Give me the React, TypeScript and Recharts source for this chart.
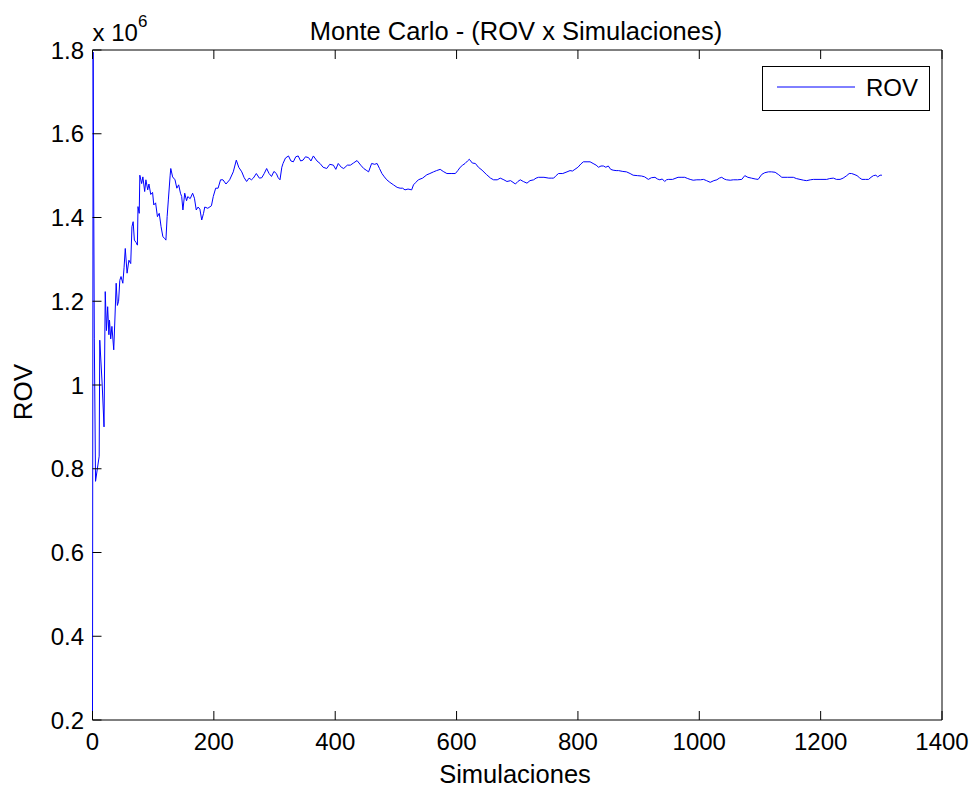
import React from 'react';
import { LineChart, Line, XAxis, YAxis, Legend, Label } from 'recharts';

// Simulation index (x) and ROV value in millions (y, x 10^6)
const simulaciones = [
  0, 1, 3, 5, 11, 12, 16, 19, 21, 23, 25, 27, 28, 30, 32, 35, 37, 39, 41, 43, 45, 47, 50, 52, 54, 57, 60, 63,
  65, 67, 69, 72, 74, 75, 77, 78, 81, 83, 86, 88, 91, 93, 96, 99, 101, 104, 107, 110, 113, 116, 119, 121, 123,
  125, 128, 129, 132, 136, 139, 142, 145, 147, 149, 152, 155, 157, 161, 165, 168, 171, 174, 177, 180, 183, 185,
  190, 196, 199, 203, 207, 211, 215, 220, 226, 232, 237, 241, 246, 250, 254, 258, 262, 265, 270, 275, 279, 283,
  287, 291, 295, 299, 303, 306, 309, 312, 314, 318, 323, 327, 331, 335, 339, 343, 347, 351, 356, 360, 364, 370,
  375, 380, 386, 391, 397, 401, 405, 410, 414, 420, 425, 430, 436, 442, 447, 451, 455, 460, 465, 469, 473, 477,
  481, 485, 490, 496, 502, 507, 511, 515, 520, 526, 529, 533, 537, 544, 551, 556, 562, 567, 573, 578, 584, 591,
  598, 602, 606, 610, 614, 618, 621, 626, 631, 636, 642, 649, 656, 661, 667, 672, 678, 683, 689, 693, 697, 701,
  705, 710, 716, 721, 727, 731, 735, 744, 752, 756, 760, 764, 768, 775, 782, 787, 791, 795, 800, 805, 809, 815,
  820, 825, 830, 834, 838, 842, 846, 850, 854, 858, 863, 867, 874, 880, 886, 891, 898, 905, 910, 916, 921, 927,
  931, 935, 939, 943, 946, 949, 956, 965, 970, 976, 981, 985, 990, 996, 1002, 1007, 1012, 1018, 1024, 1029, 1033,
  1037, 1041, 1045, 1051, 1056, 1063, 1070, 1075, 1080, 1086, 1092, 1097, 1103, 1108, 1114, 1119, 1125, 1131,
  1136, 1145, 1155, 1160, 1166, 1172, 1177, 1183, 1188, 1199, 1210, 1215, 1221, 1226, 1232, 1237, 1243, 1247,
  1251, 1255, 1260, 1264, 1268, 1274, 1279, 1283, 1287, 1291, 1294, 1298, 1301,
];

const rovMillones = [
  0.22, 1.795, 1.11, 0.77, 0.83, 1.107, 1.0, 0.9, 1.223, 1.13, 1.187, 1.12, 1.155, 1.11, 1.14, 1.084, 1.16, 1.243,
  1.19, 1.2, 1.25, 1.259, 1.243, 1.28, 1.326, 1.267, 1.298, 1.29, 1.378, 1.39, 1.346, 1.34, 1.334, 1.426, 1.41,
  1.501, 1.481, 1.497, 1.462, 1.49, 1.466, 1.48, 1.455, 1.46, 1.43, 1.435, 1.402, 1.41, 1.378, 1.354, 1.35, 1.346,
  1.402, 1.442, 1.501, 1.517, 1.497, 1.49, 1.47, 1.478, 1.458, 1.45, 1.418, 1.458, 1.44, 1.45, 1.445, 1.458,
  1.446, 1.418, 1.425, 1.42, 1.394, 1.41, 1.425, 1.422, 1.428, 1.45, 1.47, 1.47, 1.49, 1.49, 1.48, 1.49, 1.509,
  1.537, 1.52, 1.509, 1.495, 1.486, 1.494, 1.49, 1.494, 1.505, 1.494, 1.495, 1.505, 1.517, 1.505, 1.498, 1.51,
  1.505, 1.495, 1.49, 1.52, 1.529, 1.542, 1.547, 1.535, 1.533, 1.545, 1.547, 1.535, 1.537, 1.545, 1.543, 1.535,
  1.547, 1.535, 1.529, 1.52, 1.517, 1.527, 1.525, 1.515, 1.529, 1.52, 1.517, 1.525, 1.525, 1.53, 1.536, 1.525,
  1.517, 1.513, 1.509, 1.529, 1.527, 1.529, 1.517, 1.505, 1.497, 1.49, 1.484, 1.478, 1.472, 1.47, 1.47, 1.466,
  1.468, 1.466, 1.478, 1.484, 1.49, 1.494, 1.502, 1.505, 1.509, 1.512, 1.515, 1.51, 1.505, 1.505, 1.505, 1.512,
  1.52, 1.525, 1.529, 1.535, 1.539, 1.53, 1.529, 1.52, 1.513, 1.503, 1.494, 1.49, 1.49, 1.494, 1.49, 1.486,
  1.488, 1.484, 1.48, 1.486, 1.49, 1.486, 1.482, 1.488, 1.49, 1.494, 1.496, 1.496, 1.494, 1.494, 1.494, 1.5,
  1.505, 1.505, 1.509, 1.512, 1.511, 1.515, 1.52, 1.528, 1.533, 1.533, 1.533, 1.529, 1.525, 1.52, 1.523, 1.523,
  1.52, 1.523, 1.515, 1.513, 1.512, 1.512, 1.51, 1.509, 1.505, 1.501, 1.5, 1.499, 1.497, 1.491, 1.495, 1.496,
  1.492, 1.49, 1.492, 1.486, 1.49, 1.491, 1.491, 1.496, 1.496, 1.496, 1.493, 1.491, 1.489, 1.49, 1.49, 1.491,
  1.488, 1.484, 1.488, 1.49, 1.494, 1.496, 1.492, 1.49, 1.489, 1.49, 1.49, 1.491, 1.5, 1.496, 1.494, 1.492,
  1.491, 1.503, 1.507, 1.509, 1.509, 1.508, 1.502, 1.496, 1.496, 1.496, 1.493, 1.491, 1.489, 1.488, 1.49, 1.491,
  1.491, 1.491, 1.493, 1.494, 1.491, 1.491, 1.494, 1.5, 1.505, 1.505, 1.503, 1.5, 1.495, 1.491, 1.491, 1.491,
  1.496, 1.5, 1.501, 1.497, 1.501, 1.501,
];

const xTicks = [0, 200, 400, 600, 800, 1000, 1200, 1400];
const yTicks = [0.2, 0.4, 0.6, 0.8, 1, 1.2, 1.4, 1.6, 1.8];

const titulo = 'Monte Carlo - (ROV x Simulaciones)';
const xLabel = 'Simulaciones';
const yLabel = 'ROV';
const serieNombre = 'ROV';

const data = simulaciones.map((s, i) => ({ sim: s, rov: rovMillones[i] }));

const FONT = '"Liberation Sans", Arial, Helvetica, sans-serif';
const TICK_FS = 24;
const TL = 9;
const PLOT_LEFT = 92.5;
const PLOT_TOP = 50;
const PLOT_RIGHT = 942;
const PLOT_BOTTOM = 720;

const BottomTick = (props: any) => {
  const { x, payload } = props;
  return (
    <g>
      <line x1={x} x2={x} y1={PLOT_BOTTOM} y2={PLOT_BOTTOM - TL} stroke="#000" strokeWidth={1} />
      <text x={x} y={750} textAnchor="middle" fontFamily={FONT} fontSize={TICK_FS} fill="#000">
        {payload.value}
      </text>
    </g>
  );
};

const TopTick = (props: any) => {
  const { x } = props;
  return <line x1={x} x2={x} y1={PLOT_TOP} y2={PLOT_TOP + TL} stroke="#000" strokeWidth={1} />;
};

const LeftTick = (props: any) => {
  const { y, payload } = props;
  return (
    <g>
      <line x1={PLOT_LEFT} x2={PLOT_LEFT + TL} y1={y} y2={y} stroke="#000" strokeWidth={1} />
      <text x={84} y={y} dy="0.36em" textAnchor="end" fontFamily={FONT} fontSize={TICK_FS} fill="#000">
        {String(payload.value)}
      </text>
    </g>
  );
};

const RightTick = (props: any) => {
  const { y } = props;
  return <line x1={PLOT_RIGHT} x2={PLOT_RIGHT - TL} y1={y} y2={y} stroke="#000" strokeWidth={1} />;
};

const LegendBox = (props: any) => {
  const name = props?.payload?.[0]?.value ?? serieNombre;
  return (
    <div
      style={{
        width: 168,
        height: 45,
        border: '1px solid #000',
        background: '#fff',
        boxSizing: 'border-box',
        position: 'relative',
        fontFamily: FONT,
      }}
    >
      <svg width={80} height={4} style={{ position: 'absolute', left: 14, top: 18 }}>
        <line x1={0} x2={78} y1={2} y2={2} stroke="#0000ff" strokeWidth={1} />
      </svg>
      <span style={{ position: 'absolute', left: 103, top: 7, fontSize: 24, lineHeight: '28px', color: '#000' }}>
        {name}
      </span>
    </div>
  );
};

const TitleContent = () => (
  <text x={516} y={40} textAnchor="middle" fontFamily={FONT} fontSize={25.5} fill="#000">
    {titulo}
  </text>
);

const ExponentContent = () => (
  <text x={PLOT_LEFT} y={41} textAnchor="start" fontFamily={FONT} fontSize={24} fill="#000">
    x 10
    <tspan dy={-14} fontSize={17}>6</tspan>
  </text>
);

const YLabelContent = () => (
  <text
    x={22.5}
    y={392}
    transform="rotate(-90, 22.5, 392)"
    textAnchor="middle"
    dy="0.36em"
    fontFamily={FONT}
    fontSize={26}
    fill="#000"
  >
    {yLabel}
  </text>
);

const XLabelContent = () => (
  <text x={515} y={783} textAnchor="middle" fontFamily={FONT} fontSize={25.5} fill="#000">
    {xLabel}
  </text>
);

export default function App() {
  return (
    <div style={{ position: 'absolute', left: 0, top: 0, width: 975, height: 787, background: '#fff' }}>
      <LineChart width={975} height={787} data={data} margin={{ top: 49, right: 32, bottom: 0, left: 0 }}>
        <XAxis
          xAxisId="bottom"
          dataKey="sim"
          type="number"
          domain={[0, 1400]}
          ticks={xTicks}
          height={67}
          axisLine={{ stroke: '#000', strokeWidth: 1 }}
          tickLine={false}
          tick={<BottomTick />}
          interval={0}
        >
          <Label content={<XLabelContent />} />
        </XAxis>
        <XAxis
          xAxisId="top"
          orientation="top"
          dataKey="sim"
          type="number"
          domain={[0, 1400]}
          ticks={xTicks}
          height={1}
          axisLine={{ stroke: '#000', strokeWidth: 1 }}
          tickLine={false}
          tick={<TopTick />}
          interval={0}
        >
          <Label content={<TitleContent />} />
        </XAxis>
        <YAxis
          yAxisId="left"
          type="number"
          domain={[0.2, 1.8]}
          ticks={yTicks}
          width={92.5}
          axisLine={false}
          tickLine={false}
          tick={<LeftTick />}
          interval={0}
        >
          <Label content={<YLabelContent />} />
        </YAxis>
        <YAxis
          yAxisId="right"
          orientation="right"
          type="number"
          domain={[0.2, 1.8]}
          ticks={yTicks}
          width={1}
          axisLine={{ stroke: '#000', strokeWidth: 1 }}
          tickLine={false}
          tick={<RightTick />}
          interval={0}
        />
        <Legend
          layout="horizontal"
          verticalAlign="middle"
          align="center"
          content={<LegendBox />}
          wrapperStyle={{ position: 'absolute', left: 762, top: 66, width: 168, height: 45 }}
        />
        <Line
          xAxisId="bottom"
          yAxisId="left"
          type="linear"
          dataKey="rov"
          name={serieNombre}
          stroke="#0000ff"
          strokeWidth={1}
          dot={false}
          activeDot={false}
          isAnimationActive={false}
        />
      </LineChart>
      <svg width={200} height={50} style={{ position: 'absolute', left: 0, top: 0, pointerEvents: 'none' }}>
        <ExponentContent />
      </svg>
      <svg width={20} height={787} style={{ position: 'absolute', left: 84, top: 0, pointerEvents: 'none' }}>
        <line x1={8.5} x2={8.5} y1={711} y2={720} stroke="#000" strokeWidth={1} />
      </svg>
    </div>
  );
}
